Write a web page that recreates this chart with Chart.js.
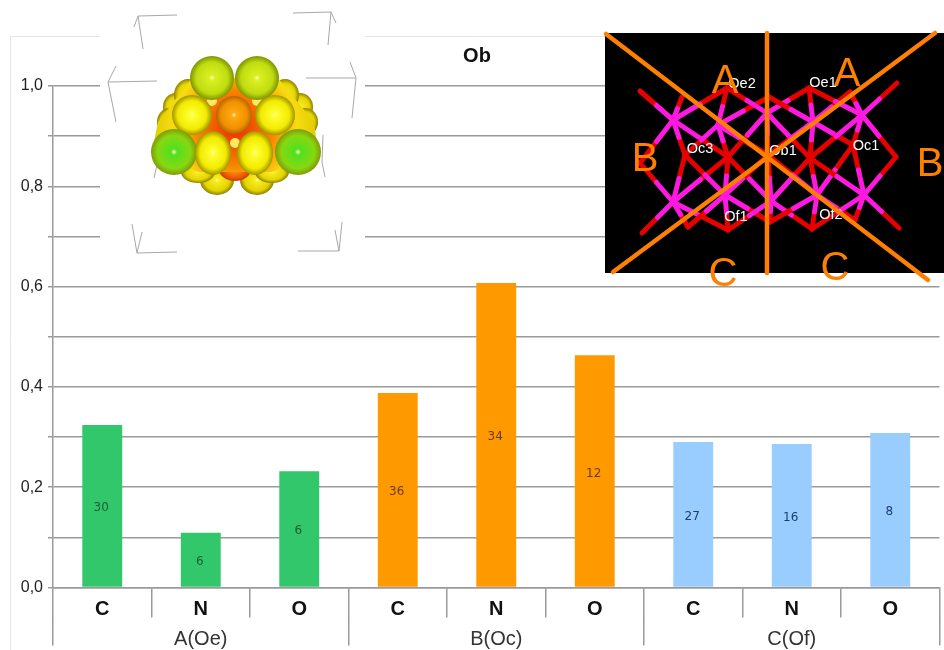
<!DOCTYPE html>
<html>
<head>
<meta charset="utf-8">
<title>Ob</title>
<script src="https://cdn.jsdelivr.net/npm/chart.js@4"></script>
<style>
  html, body { margin: 0; padding: 0; background: #fff; }
  canvas { display: block; }
</style>
</head>
<body>
<canvas id="chart" width="944" height="650"></canvas>
<script>
const elements = ["C", "N", "O", "C", "N", "O", "C", "N", "O"];
const groups = ["A(Oe)", "B(Oc)", "C(Of)"];
const values = [0.324, 0.109, 0.232, 0.388, 0.607, 0.463, 0.29, 0.286, 0.308];
const counts = [30, 6, 6, 36, 34, 12, 27, 16, 8];
const groupColors = ["#33c76b", "#ff9900", "#99ccff"];
const countColors = ["#17602f", "#6a3c08", "#1d3d6e"];

const LINE = "#9a9a9a";
const FONT = '"Liberation Sans", Arial, sans-serif';

// inset artwork, page pixels
const cornerMarks = [
  [[177, 15], [138, 16], [143, 49]], [[138, 16], [134, 27]],
  [[293, 13], [331, 12], [328, 45]], [[331, 12], [336, 23]],
  [[157, 81], [108, 82], [116, 122]], [[108, 82], [116, 66]],
  [[306, 78], [356, 78], [352, 118]], [[356, 78], [350, 62]],
  [[177, 252], [137, 253], [132, 224]], [[137, 253], [142, 232]],
  [[298, 251], [339, 251], [342, 222]], [[339, 251], [335, 230]],
  [[323, 135], [322, 162], [325, 177]], [[157, 165], [154, 178]]
];

const YELLOW = ["#ffff30", "#f2ea00", "#a09400"];
const OLIVE = ["#f8ec20", "#e4d400", "#8c8000"];
const LIME = ["#d8f020", "#c0dc10", "#7c9400"];
const GREEN = ["#50e020", "#88d810", "#809a08"];
const ORANGE = ["#ffa810", "#f09000", "#b86400"];
const DEEP = ["#ffa030", "#f06000", "#c84000"];

// behind the hull
const backSpheres = [
  [217, 180, 17, 15, OLIVE], [257, 180, 17, 15, OLIVE],
  [176, 107, 13, 14, OLIVE], [170, 122, 13, 14, OLIVE], [188, 95, 14, 16, OLIVE],
  [300, 107, 13, 14, OLIVE], [305, 122, 13, 14, OLIVE], [285, 95, 14, 16, OLIVE],
  [198, 172, 17, 11, OLIVE], [272, 172, 17, 11, OLIVE], [235, 167, 17, 14, DEEP]
];
const hull = [
  [192, 78], [278, 78], [314, 122], [318, 152], [272, 172], [198, 172], [152, 152], [158, 122]
];
const frontSpheres = [
  [212, 78, 22, 22, LIME], [257, 78, 22, 22, LIME],
  [192, 115, 20, 20, YELLOW], [275, 115, 20, 20, YELLOW], [234, 115, 18, 19, ORANGE],
  [174, 152, 23, 23, GREEN], [298, 152, 23, 23, GREEN],
  [213, 153, 18, 22, YELLOW], [255, 153, 18, 22, YELLOW]
];
const glints = [[212, 101, 5], [257, 101, 5], [235, 143, 5]];

const metalNodes = [
  [673, 120], [718, 125], [767, 113], [813, 122], [862, 115],
  [673, 202], [725, 195], [771, 201], [817, 195], [864, 195]
];
const oxygenNodes = [
  [640, 91], [682, 97], [727, 88], [769, 97], [809, 88], [850, 92], [897, 83],
  [640, 163], [685, 155], [728, 157], [768, 155], [810, 158], [853, 145], [896, 157],
  [642, 233], [688, 227], [728, 230], [770, 222], [812, 229], [855, 220], [899, 228]
];
// oxygen neighbours of each metal node
const bonds = [
  [0, 1, 2, 7, 8, 9],
  [2, 3, 8, 9, 10],
  [2, 4, 9, 10, 11],
  [3, 4, 5, 10, 11, 12],
  [4, 5, 6, 11, 12, 13],
  [7, 8, 9, 14, 15, 16],
  [8, 9, 10, 15, 16, 17],
  [9, 10, 11, 16, 17, 18],
  [10, 11, 12, 17, 18, 19],
  [11, 12, 13, 18, 19, 20]
];
const atomLabels = [
  ["Oe2", 742, 84], ["Oe1", 823, 83], ["Oc3", 700, 149], ["Ob1", 783, 151],
  ["Oc1", 866, 146], ["Of1", 736, 217], ["Of2", 831, 215]
];
const cutLines = [
  [[606, 34], [928, 280]], [[935, 33], [613, 272]], [[767, 33], [767, 273]]
];
const sectorLabels = [
  ["A", 725, 82], ["A", 847, 75], ["B", 645, 160], ["B", 930, 165],
  ["C", 723, 275], ["C", 835, 269]
];

function strokeLine(ctx, pts, color, width) {
  ctx.strokeStyle = color;
  ctx.lineWidth = width;
  ctx.beginPath();
  pts.forEach((p, i) => i ? ctx.lineTo(p[0], p[1]) : ctx.moveTo(p[0], p[1]));
  ctx.stroke();
}

function drawSphere(ctx, [x, y, rx, ry, c]) {
  ctx.save();
  ctx.translate(x, y);
  ctx.scale(1, ry / rx);
  const g = ctx.createRadialGradient(0, 0, 0, 0, 0, rx);
  g.addColorStop(0, "#fff6b0");
  g.addColorStop(0.14, c[0]);
  g.addColorStop(0.72, c[1]);
  g.addColorStop(1, c[2]);
  ctx.fillStyle = g;
  ctx.beginPath();
  ctx.arc(0, 0, rx, 0, Math.PI * 2);
  ctx.fill();
  ctx.restore();
}

function drawMolecule(ctx) {
  ctx.fillStyle = "#fff";
  ctx.fillRect(100, 0, 265, 256);
  cornerMarks.forEach(m => strokeLine(ctx, m, "#a8a8a8", 1));
  backSpheres.forEach(s => drawSphere(ctx, s));

  const g = ctx.createRadialGradient(235, 128, 8, 235, 128, 85);
  g.addColorStop(0, "#f03c00");
  g.addColorStop(0.4, "#f88800");
  g.addColorStop(0.7, "#f8dc10");
  g.addColorStop(1, "#dcc800");
  ctx.fillStyle = g;
  ctx.beginPath();
  hull.forEach((p, i) => i ? ctx.lineTo(p[0], p[1]) : ctx.moveTo(p[0], p[1]));
  ctx.closePath();
  ctx.fill();

  ctx.fillStyle = "#ffe860";
  glints.forEach(([x, y, r]) => {
    ctx.beginPath();
    ctx.arc(x, y, r, 0, Math.PI * 2);
    ctx.fill();
  });
  frontSpheres.forEach(s => drawSphere(ctx, s));
}

function drawStructure(ctx) {
  ctx.fillStyle = "#000";
  ctx.fillRect(605, 33, 339, 240);
  ctx.lineCap = "round";
  bonds.forEach((list, m) => {
    const a = metalNodes[m];
    list.forEach(o => {
      const b = oxygenNodes[o];
      const mid = [(a[0] + b[0]) / 2, (a[1] + b[1]) / 2];
      strokeLine(ctx, [mid, b], "#e60000", 5);
      strokeLine(ctx, [a, mid], "#ff19e0", 5);
    });
  });
  ctx.textAlign = "center";
  ctx.textBaseline = "middle";
  ctx.fillStyle = "#fff";
  ctx.font = "14.5px " + FONT;
  atomLabels.forEach(([t, x, y]) => ctx.fillText(t, x, y));
  cutLines.forEach(l => strokeLine(ctx, l, "#ff8000", 4.5));
  ctx.lineCap = "butt";
  ctx.fillStyle = "#ff8000";
  ctx.font = "40px " + FONT;
  sectorLabels.forEach(([t, x, y]) => ctx.fillText(t, x, y));
}

const framePlugin = {
  id: "frame",
  beforeDraw(chart) {
    const ctx = chart.ctx;
    ctx.save();
    ctx.fillStyle = "#fff";
    ctx.fillRect(0, 0, 944, 650);
    strokeLine(ctx, [[10.5, 650], [10.5, 36.5], [944, 36.5]], "#e6e6e6", 1);
    ctx.restore();
  }
};

const countsPlugin = {
  id: "counts",
  afterDatasetsDraw(chart) {
    const ctx = chart.ctx;
    const y = chart.scales.y;
    const x = chart.scales.x;
    ctx.save();
    ctx.font = '12px "DejaVu Sans", sans-serif';
    ctx.textAlign = "center";
    ctx.textBaseline = "middle";
    counts.forEach((c, i) => {
      ctx.fillStyle = countColors[Math.floor(i / 3)];
      ctx.fillText(c, x.getPixelForValue(i) - 1, (y.getPixelForValue(values[i]) + y.getPixelForValue(0)) / 2 + 2);
    });
    ctx.restore();
  }
};

const insetsPlugin = {
  id: "insets",
  afterDraw(chart) {
    const ctx = chart.ctx;
    ctx.save();
    drawMolecule(ctx);
    drawStructure(ctx);
    ctx.font = "bold 20px " + FONT;
    ctx.fillStyle = "#111";
    ctx.textAlign = "center";
    ctx.textBaseline = "middle";
    ctx.fillText("Ob", 477, 56);
    ctx.restore();
  }
};

new Chart(document.getElementById("chart").getContext("2d"), {
  type: "bar",
  data: {
    labels: elements,
    datasets: [{
      data: values,
      backgroundColor: c => groupColors[Math.floor(c.dataIndex / 3)],
      barPercentage: 0.405,
      categoryPercentage: 1
    }]
  },
  plugins: [framePlugin, countsPlugin, insetsPlugin],
  options: {
    responsive: false,
    animation: false,
    layout: { padding: { top: 86, right: 4.5, bottom: 0, left: 0 } },
    plugins: {
      legend: { display: false },
      tooltip: { enabled: false }
    },
    scales: {
      y: {
        min: 0,
        max: 1,
        afterFit: s => { s.width = 53; },
        ticks: {
          stepSize: 0.1,
          autoSkip: false,
          padding: 5,
          color: "#222",
          font: { family: FONT, size: 16 },
          callback: v => Math.round(v * 10) % 2 === 0 ? v.toFixed(1).replace(".", ",") : ""
        },
        grid: { color: LINE, lineWidth: 1.5, tickLength: 5 },
        border: { color: LINE, width: 1.5 }
      },
      x: {
        afterFit: s => { s.height = 29; },
        ticks: {
          autoSkip: false,
          maxRotation: 0,
          padding: -20,
          color: "#111",
          font: { family: FONT, size: 20, weight: "bold" }
        },
        grid: { offset: true, drawOnChartArea: false, color: LINE, lineWidth: 1.5, tickLength: 30 },
        border: { color: LINE, width: 1.5 }
      },
      groups: {
        type: "category",
        position: "bottom",
        labels: groups,
        afterFit: s => { s.height = 33.5; },
        ticks: {
          autoSkip: false,
          maxRotation: 0,
          padding: -18,
          color: "#333",
          font: { family: FONT, size: 20 }
        },
        grid: { offset: true, drawOnChartArea: false, color: LINE, lineWidth: 1.5, tickLength: 29 },
        border: { display: false }
      }
    }
  }
});
</script>
</body>
</html>
